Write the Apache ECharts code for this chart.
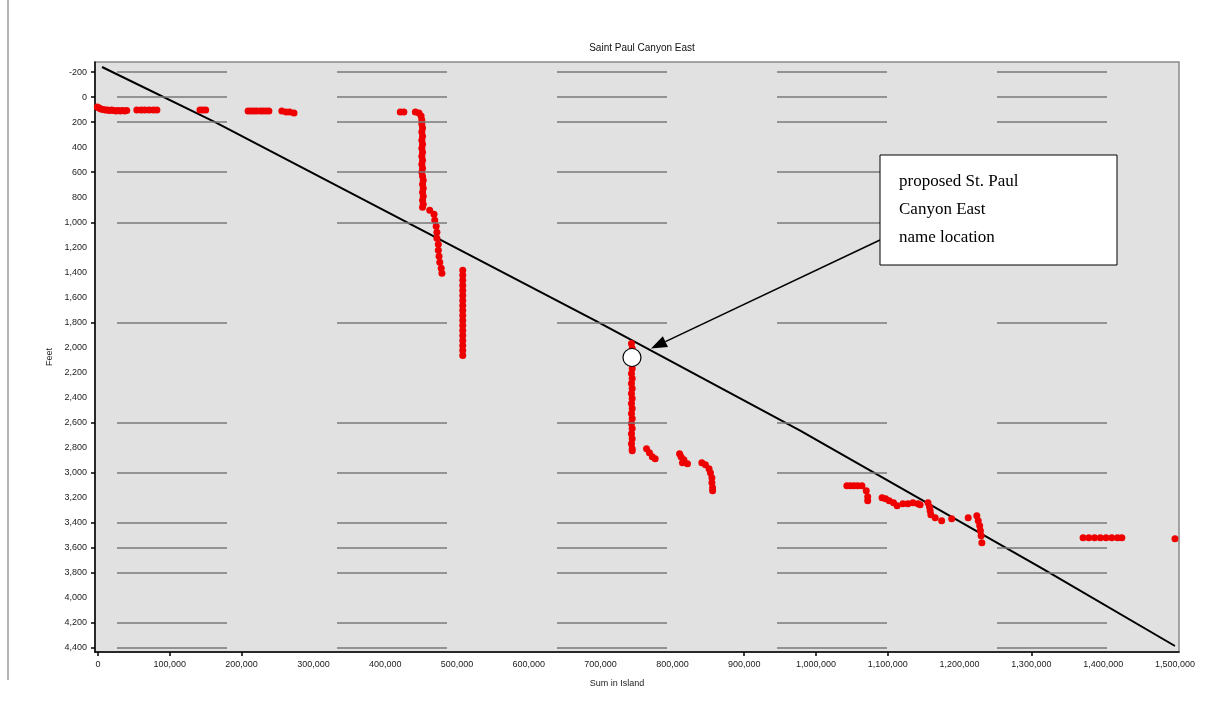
<!DOCTYPE html>
<html>
<head>
<meta charset="utf-8">
<script src="https://cdn.jsdelivr.net/npm/echarts@6/dist/echarts.min.js"></script>
<style>
html,body{margin:0;padding:0;background:#fff;}
#chart{width:1206px;height:709px;}
</style>
</head>
<body>
<div id="chart"></div>
<script>
// ---- data ----
const titleText = "Saint Paul Canyon East";
const xAxisName = "Sum in Island";
const yAxisName = "Feet";
const xLabelValues = [0,100000,200000,300000,400000,500000,600000,700000,800000,900000,1000000,1100000,1200000,1300000,1400000,1500000];
const xTickValues = [0,100000,200000,900000,1000000,1100000,1300000];
const yLabelValues = [-200,0,200,400,600,800,1000,1200,1400,1600,1800,2000,2200,2400,2600,2800,3000,3200,3400,3600,3800,4000,4200,4400];
const yTickValues = [-200,0,200,600,1000,1800,2600,3000,3400,3600,3800,4200,4400];
const gridLineValues = [-200,0,200,600,1000,1800,2600,3000,3400,3600,3800,4200,4400];

// black trend line (x, y)
const trendLine = [[5600,-240],[163000,200],[692000,1784],[978000,2664],[1316000,3768],[1500000,4384]];

// red observed points (x, y)
const redPoints = [
 [-1000,80],[1500,88],[4000,96],[7000,100],[10000,104],[13000,104],[16000,108],[19000,104],[22000,108],[25000,112],[28000,108],[31000,112],[34000,108],[37000,112],[40000,108],
 [54000,104],[60000,104],[65000,104],[71000,104],[77000,104],[82000,104],
 [142000,104],[146000,104],[150000,104],
 [209000,112],[213000,112],[217000,112],[221000,112],[226000,112],[230000,112],[234000,112],[238000,112],
 [256000,112],[262000,120],[267000,120],[273000,128],
 [421000,120],[426000,120],
 [442000,120],[447000,128],[450000,152],[451000,184],[451000,216],[452000,248],[451000,280],[452000,312],[451000,344],[452000,376],[451000,408],[452000,440],[451000,472],[452000,504],[451000,536],[452000,568],[451000,600],[452000,632],[453000,664],[452000,696],[453000,728],[452000,760],[453000,792],[452000,824],[453000,856],[452000,880],
 [462000,904],[468000,936],[469000,984],[471000,1032],[472000,1080],[472000,1128],[474000,1176],[474000,1224],[475000,1272],[476000,1320],[478000,1368],[479000,1408],
 [508000,1384],[508000,1424],[508000,1464],[508000,1504],[508000,1544],[508000,1584],[508000,1624],[508000,1664],[508000,1704],[508000,1744],[508000,1784],[508000,1824],[508000,1864],[508000,1904],[508000,1944],[508000,1984],[508000,2024],[508000,2064],
 [743000,1968],[744000,2008],[743000,2048],[744000,2088],[743000,2128],[744000,2168],[743000,2208],[744000,2248],[743000,2288],[744000,2328],[743000,2368],[744000,2408],[743000,2448],[744000,2488],[743000,2528],[744000,2568],[743000,2608],[744000,2648],[743000,2688],[744000,2728],[743000,2768],[744000,2808],[744000,2824],
 [764000,2808],[768000,2840],[772000,2872],[776000,2888],
 [810000,2848],[812000,2872],[814000,2920],[816000,2896],[821000,2928],
 [841000,2920],[846000,2936],[851000,2968],[853000,3000],[855000,3040],[855000,3080],[856000,3120],[856000,3144],
 [1043000,3104],[1048000,3104],[1053000,3104],[1058000,3104],[1064000,3104],[1070000,3144],[1072000,3192],[1072000,3224],
 [1092000,3200],[1097000,3208],[1102000,3224],[1108000,3240],[1113000,3264],
 [1121000,3248],[1128000,3248],[1135000,3240],[1142000,3248],[1145000,3256],
 [1156000,3240],[1158000,3272],[1159000,3304],[1160000,3336],[1166000,3360],[1175000,3384],
 [1189000,3368],[1212000,3360],
 [1224000,3344],[1226000,3384],[1228000,3424],[1229000,3464],[1230000,3504],[1231000,3560],
 [1372000,3520],[1380000,3520],[1388000,3520],[1396000,3520],[1404000,3520],[1412000,3520],[1420000,3520],[1426000,3520],
 [1500000,3528]
];

// proposed name location (white circle)
const proposedPoint = [[743700,2080]];
const annotationLines = ["proposed St. Paul","Canyon East","name location"];

// ---- chart ----
const fmt = v => v.toLocaleString('en-US');
const chart = echarts.init(document.getElementById('chart'));

const option = {
  animation: false,
  backgroundColor: '#ffffff',
  title: {
    text: titleText, left: 637, top: 38, textAlign: 'center',
    textStyle: {fontFamily: 'Liberation Sans, Arial', fontSize: 10, fontWeight: 'normal', color: '#111'}
  },
  grid: {
    left: 95, right: 27, top: 62, bottom: 57,
    show: true, backgroundColor: '#e1e1e1', borderColor: '#8a8a8a', borderWidth: 1.5
  },
  xAxis: {
    type: 'value', min: -4200, max: 1505600,
    name: xAxisName, nameLocation: 'middle', nameGap: 27,
    nameTextStyle: {fontFamily: 'Liberation Sans, Arial', fontSize: 9, color: '#222', padding: [0, 0, 0, -40]},
    axisLine: {show: true, onZero: false, lineStyle: {color: '#000', width: 1.5}},
    axisTick: {show: true, customValues: xTickValues, length: 4, inside: false, lineStyle: {color: '#000', width: 1.5}},
    axisLabel: {customValues: xLabelValues, formatter: fmt, fontFamily: 'Liberation Sans, Arial', fontSize: 9, color: '#222', margin: 8},
    splitLine: {show: false}
  },
  yAxis: {
    type: 'value', inverse: true, min: -280, max: 4432,
    name: yAxisName, nameLocation: 'middle', nameGap: 40, nameRotate: 90,
    nameTextStyle: {fontFamily: 'Liberation Sans, Arial', fontSize: 9, color: '#222'},
    axisLine: {show: true, onZero: false, lineStyle: {color: '#000', width: 1.5}},
    axisTick: {show: true, customValues: yTickValues, length: 4, lineStyle: {color: '#000', width: 1.5}},
    axisLabel: {customValues: yLabelValues, formatter: fmt, fontFamily: 'Liberation Sans, Arial', fontSize: 9, color: '#222', margin: 8},
    splitLine: {show: false}
  },
  series: [
    {
      name: 'grid', type: 'line', data: [], silent: true,
      markLine: {
        silent: true, symbol: ['none', 'none'], animation: false,
        label: {show: false},
        lineStyle: {color: '#7a7a7a', width: 1.5, type: [110, 110], dashOffset: 198},
        data: gridLineValues.map(v => ({yAxis: v}))
      }
    },
    {
      name: 'trend', type: 'line', data: trendLine, showSymbol: false, symbol: 'none',
      lineStyle: {color: '#000', width: 2}, z: 3
    },
    {
      name: 'observed', type: 'scatter', data: redPoints, symbol: 'circle', symbolSize: 7,
      itemStyle: {color: '#ee0000', opacity: 1}, z: 4
    },
    {
      name: 'proposed', type: 'scatter', data: proposedPoint, symbol: 'circle', symbolSize: 18,
      itemStyle: {color: '#ffffff', opacity: 1, borderColor: '#000', borderWidth: 1.2}, z: 6
    }
  ]
};
chart.setOption(option);

// annotation box and arrow, arrow tip anchored to the proposed point
const center = chart.convertToPixel({xAxisIndex: 0, yAxisIndex: 0}, proposedPoint[0]);
const boxL = 880, boxT = 155, boxW = 237, boxH = 110;
const start = [boxL, 240];
const dx = start[0] - center[0], dy = start[1] - center[1];
const len = Math.sqrt(dx * dx + dy * dy);
const ux = dx / len, uy = dy / len;
const tip = [center[0] + ux * 21, center[1] + uy * 21];
const headLen = 16, headW = 6;
const baseX = tip[0] + ux * headLen, baseY = tip[1] + uy * headLen;
const px = -uy, py = ux;

chart.setOption({
  graphic: [
    {type: 'line', shape: {x1: 8, y1: 0, x2: 8, y2: 680}, style: {stroke: '#9a9a9a', lineWidth: 1.5}, silent: true},
    {type: 'line', shape: {x1: start[0], y1: start[1], x2: baseX, y2: baseY}, style: {stroke: '#000', lineWidth: 1.5}, z: 100},
    {type: 'polygon', shape: {points: [tip, [baseX + px * headW, baseY + py * headW], [baseX - px * headW, baseY - py * headW]]}, style: {fill: '#000'}, z: 100},
    {type: 'rect', shape: {x: boxL, y: boxT, width: boxW, height: boxH}, style: {fill: '#fff', stroke: '#000', lineWidth: 1}, z: 100},
    {type: 'text', x: boxL + 19, y: boxT + 13, z: 101,
     style: {text: annotationLines.join('\n'), font: '17px "Liberation Serif", "Times New Roman", serif', fill: '#000', lineHeight: 28}}
  ]
});
</script>
</body>
</html>
